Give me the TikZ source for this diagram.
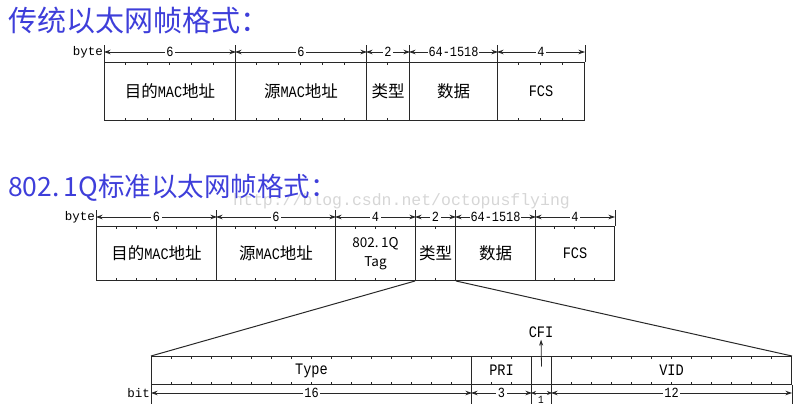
\documentclass[tikz,border=0pt]{standalone}
\usepackage{fontspec}
\usetikzlibrary{arrows.meta}
\newfontfamily\cjk{Noto Sans CJK SC}
\newfontfamily\mono{Liberation Mono}
\newfontfamily\monon[FakeStretch=0.85]{Liberation Mono}
\definecolor{titleblue}{RGB}{62,62,218}
\definecolor{lnc}{RGB}{40,40,40}
\newcommand\boxcjk{\cjk\fontsize{16.5}{18}\selectfont}
\newcommand\boxmono{\monon\fontsize{16}{18}\selectfont}
\newcommand\dimfnt{\monon\fontsize{14}{16}\selectfont}
\newcommand\fticks[3]{\foreach \k in {1,...,#2} {\draw[tick] ([xshift=\k*#3]#1.north west) -- ++(0,3); \draw[tick] ([xshift=\k*#3]#1.south west) -- ++(0,-3);}}
\begin{document}
\begin{tikzpicture}[x=1pt,y=-1pt,
  field/.style={draw=lnc, line width=1pt, inner sep=0pt, anchor=north west, align=center},
  ext/.style={draw=lnc, line width=1pt},
  tick/.style={draw=lnc, line width=0.8pt},
  dimline/.style={draw=lnc, line width=0.7pt, {Stealth[length=6.5pt,width=4.5pt]}-{Stealth[length=6.5pt,width=4.5pt]}},
  dimlab/.style={fill=white, inner xsep=1.5pt, inner ysep=0pt, font=\dimfnt},
  title/.style={anchor=west, text=titleblue, inner sep=0pt},
  lab/.style={font=\boxmono, inner sep=0pt},
  unitlab/.style={font=\mono\fontsize{12.5}{14}\selectfont, inner sep=1pt, anchor=east},
]
\useasboundingbox (0,0) rectangle (812,404);
% watermark
\node[font=\mono\fontsize{16.5}{18}\selectfont, text=black!16, anchor=west, inner sep=0pt] (wm) at (233,201) {http://blog.csdn.net/octopusflying};
% titles
\node[title, font=\cjk\fontsize{29}{32}\selectfont] (h1) at (8,21) {传统以太网帧格式：};
\node[title, font=\cjk\fontsize{26.5}{30}\selectfont] (h2) at (8,188) {802.\kern4pt 1Q标准以太网帧格式：};
% ---- traditional frame
\node[field, minimum width=131pt, minimum height=58pt] (t1) at (104,62) {\boxcjk 目的{\boxmono MAC}地址};
\node[field, minimum width=131pt, minimum height=58pt] (t2) at (235,62) {\boxcjk 源{\boxmono MAC}地址};
\node[field, minimum width=43pt, minimum height=58pt] (t3) at (366,62) {\boxcjk 类型};
\node[field, minimum width=88pt, minimum height=58pt] (t4) at (409,62) {\boxcjk 数据};
\node[field, minimum width=87pt, minimum height=58pt] (t5) at (497,62) {\boxmono FCS};
\foreach \n in {t1,t2,t3,t4,t5} \draw[ext] (\n.north west) -- ++(0,-17);
\draw[ext] (t5.north east) -- ++(0,-17);
\fticks{t1}{5}{21.83pt}
\fticks{t2}{5}{21.83pt}
\fticks{t3}{1}{21.5pt}
\fticks{t5}{3}{21.75pt}
\draw[dimline] ([yshift=10pt]t1.north west) -- node[dimlab]{6} ([yshift=10pt]t1.north east);
\draw[dimline] ([yshift=10pt]t2.north west) -- node[dimlab]{6} ([yshift=10pt]t2.north east);
\draw[dimline] ([yshift=10pt]t3.north west) -- node[dimlab]{2} ([yshift=10pt]t3.north east);
\draw[dimline] ([yshift=10pt]t4.north west) -- node[dimlab, inner xsep=0.5pt]{64-1518} ([yshift=10pt]t4.north east);
\draw[dimline] ([yshift=10pt]t5.north west) -- node[dimlab]{4} ([yshift=10pt]t5.north east);
\node[unitlab] (ub1) at ([yshift=10pt]t1.north west) {byte};
% ---- 802.1Q frame
\node[field, minimum width=120pt, minimum height=54pt] (s1) at (96,226) {\boxcjk 目的{\boxmono MAC}地址};
\node[field, minimum width=119pt, minimum height=54pt] (s2) at (216,226) {\boxcjk 源{\boxmono MAC}地址};
\node[field, minimum width=80pt, minimum height=54pt, font=\cjk\fontsize{13.5}{19}\selectfont] (s3) at (335,226) {802.\kern2.5pt 1Q\\Tag};
\node[field, minimum width=40pt, minimum height=54pt] (s4) at (415,226) {\boxcjk 类型};
\node[field, minimum width=80pt, minimum height=54pt] (s5) at (455,226) {\boxcjk 数据};
\node[field, minimum width=79pt, minimum height=54pt] (s6) at (535,226) {\boxmono FCS};
\foreach \n in {s1,s2,s3,s4,s5,s6} \draw[ext] (\n.north west) -- ++(0,-16);
\draw[ext] (s6.north east) -- ++(0,-16);
\fticks{s1}{5}{20pt}
\fticks{s2}{5}{19.83pt}
\fticks{s3}{3}{20pt}
\fticks{s4}{1}{20pt}
\fticks{s6}{3}{19.75pt}
\draw[dimline] ([yshift=9pt]s1.north west) -- node[dimlab]{6} ([yshift=9pt]s1.north east);
\draw[dimline] ([yshift=9pt]s2.north west) -- node[dimlab]{6} ([yshift=9pt]s2.north east);
\draw[dimline] ([yshift=9pt]s3.north west) -- node[dimlab]{4} ([yshift=9pt]s3.north east);
\draw[dimline] ([yshift=9pt]s4.north west) -- node[dimlab]{2} ([yshift=9pt]s4.north east);
\draw[dimline] ([yshift=9pt]s5.north west) -- node[dimlab, inner xsep=0.5pt]{64-1518} ([yshift=9pt]s5.north east);
\draw[dimline] ([yshift=9pt]s6.north west) -- node[dimlab]{4} ([yshift=9pt]s6.north east);
\node[unitlab] (ub2) at ([yshift=9pt]s1.north west) {byte};
% ---- tag detail
\node[field, minimum width=320pt, minimum height=28pt] (u1) at (151,356) {\boxmono Type};
\node[field, minimum width=60pt, minimum height=28pt] (u2) at (471,356) {\boxmono PRI};
\node[field, minimum width=20pt, minimum height=28pt] (u3) at (531,356) {};
\node[field, minimum width=240pt, minimum height=28pt] (u4) at (551,356) {\boxmono VID};
\foreach \n in {u1,u2,u3,u4} \draw[ext] (\n.south west) -- ++(0,22);
\draw[ext] (u4.south east) -- ++(0,22);
\fticks{u1}{15}{20pt}
\fticks{u2}{2}{20pt}
\fticks{u4}{11}{20pt}
\draw[ext] (s4.south west) -- (u1.north west);
\draw[ext] (s4.south east) -- (u4.north east);
\draw[dimline] ([yshift=-8pt]u1.south west) -- node[dimlab]{16} ([yshift=-8pt]u1.south east);
\draw[dimline] ([yshift=-8pt]u2.south west) -- node[dimlab]{3} ([yshift=-8pt]u2.south east);
\draw[draw=lnc, line width=0.7pt, {Stealth[length=5pt,width=4pt]}-{Stealth[length=5pt,width=4pt]}] ([yshift=-8pt]u3.south west) -- ([yshift=-8pt]u3.south east);
\draw[dimline] ([yshift=-8pt]u4.south west) -- node[dimlab]{12} ([yshift=-8pt]u4.south east);
\node[font=\monon\fontsize{11}{12}\selectfont, inner sep=0pt, anchor=south] (one) at (541,403.5) {1};
\node[unitlab] (ub3) at ([yshift=-8pt]u1.south west) {bit};
\node[lab] (cfi) at (541,332) {CFI};
\draw[draw=lnc, line width=0.8pt, -{Stealth[length=6pt,width=4pt]}, shorten >=2pt] ([yshift=4pt]u3.center) -- (cfi.south);
\end{tikzpicture}
\end{document}
